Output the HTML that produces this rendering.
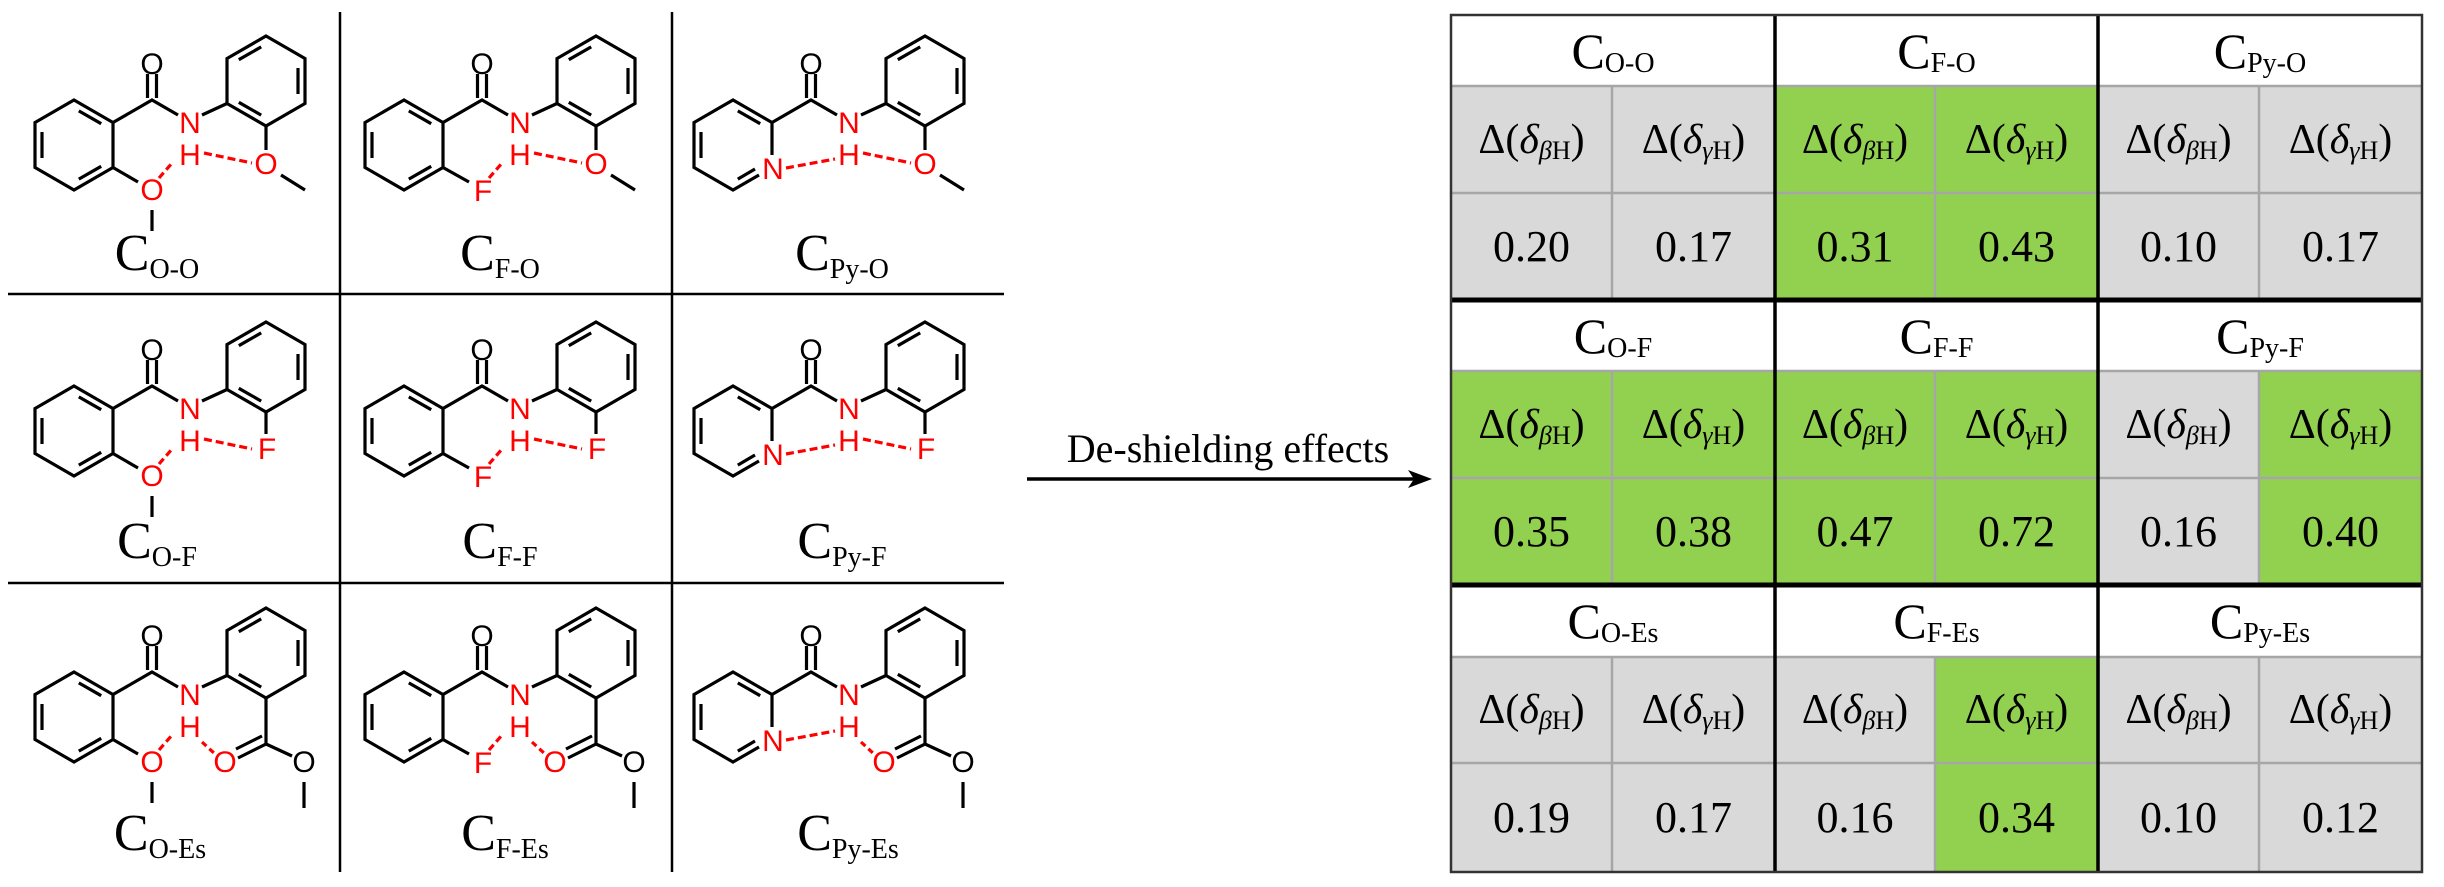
<!DOCTYPE html>
<html><head><meta charset="utf-8"><style>
html,body{margin:0;padding:0;background:#fff;}
#wrap{position:relative;width:2444px;height:887px;overflow:hidden;font-family:"Liberation Serif","DejaVu Serif",serif;}
.c{position:absolute;box-sizing:border-box;display:flex;align-items:center;justify-content:center;color:#000;font-family:"Liberation Serif","DejaVu Serif",serif;}
.c span{display:inline-block;white-space:nowrap;font-family:"Liberation Serif","DejaVu Serif",serif;}
.g{background:#d9d9d9;}
.gr{background:#92d050;}
.h{background:#fff;font-size:50px;}
.h sub{font-size:28px;position:relative;top:4px;vertical-align:baseline;}
.d{font-size:42px;}
.d sub{font-size:26px;position:relative;top:6px;vertical-align:baseline;}
.v{font-size:44px;}
</style></head><body><div id="wrap">
<svg width="1440" height="887" style="position:absolute;left:0;top:0" xmlns="http://www.w3.org/2000/svg">
<defs>
<g id="core" fill="none" stroke="#000" stroke-width="3.2">
<path d="M101,110.5 L140,88 L166,103 M190,103 L215,91.5"/>
<path d="M135.5,86 L135.5,62 M144.5,86 L144.5,62"/>
<path d="M254,24 L293,46.5 L293,91.5 L254,114 L215,91.5 L215,46.5 Z"/>
<path d="M226.8,47.7 L249.2,34.9 M286,56 L286,82 M226.8,90.3 L249.2,103.1"/>
</g>
<g id="benz" fill="none" stroke="#000" stroke-width="3.2">
<path d="M62,88 L101,110.5 L101,155.5 L62,178 L23,155.5 L23,110.5 Z"/>
<path d="M66.8,98.9 L89.2,111.7 M30,120 L30,146 M66.8,167.1 L89.2,154.3"/>
</g>
<g id="pyr" fill="none" stroke="#000" stroke-width="3.2">
<path d="M101,143 L101,110.5 L62,88 L23,110.5 L23,155.5 L62,178 L88,163"/>
<path d="M66.8,98.9 L89.2,111.7 M30,120 L30,146 M66.8,167.1 L84,157"/>
</g>
<g id="lO" fill="none" stroke="#000" stroke-width="3.2"><path d="M101,155.5 L126,170 M140,198 L140,219"/></g>
<g id="lF" fill="none" stroke="#000" stroke-width="3.2"><path d="M101,155.5 L127,170"/></g>
<g id="rO" fill="none" stroke="#000" stroke-width="3.2"><path d="M254,114 L254,138 M269,163 L293,178"/></g>
<g id="rF" fill="none" stroke="#000" stroke-width="3.2"><path d="M254,114 L254,136"/></g>
<g id="rE" fill="none" stroke="#000" stroke-width="3.2"><path d="M254,114 L254,160 L226,174 M250,152 L224,165 M254,160 L280,172 M292,198 L292,224"/></g>
<g id="dOl" fill="none" stroke="#f00" stroke-width="3.2" stroke-dasharray="7,4"><path d="M147,166 L161,150"/></g>
<g id="dNl" fill="none" stroke="#f00" stroke-width="3.2" stroke-dasharray="8,4"><path d="M115,156 L164,147"/></g>
<g id="dOr" fill="none" stroke="#f00" stroke-width="3.2" stroke-dasharray="8,4"><path d="M192,141 L240,151"/></g>
<g id="dEr" fill="none" stroke="#f00" stroke-width="3.2" stroke-dasharray="6,4"><path d="M190,158 L203,170"/></g>
</defs>
<g stroke="#000" stroke-width="2.5">
<line x1="340" y1="12" x2="340" y2="872"/><line x1="672" y1="12" x2="672" y2="872"/>
<line x1="8" y1="294" x2="1004" y2="294"/><line x1="8" y1="583" x2="1004" y2="583"/>
</g>
<line x1="1027" y1="479" x2="1418" y2="479" stroke="#000" stroke-width="3.5"/>
<path d="M1432,479 L1408,470 L1414,479 L1408,488 Z" fill="#000"/>
<text x="1228" y="462" style="font-family:'Liberation Serif','DejaVu Serif',serif" font-size="40" text-anchor="middle">De-shielding effects</text>

<g style="font-family:'Liberation Sans','DejaVu Sans',sans-serif" font-size="30" text-anchor="middle">
<g transform="translate(12,12)">
<use href="#core"/><use href="#benz"/><use href="#lO"/><use href="#rO"/><use href="#dOl"/><use href="#dOr"/>
<text x="140" y="62">O</text><text x="178" y="121" fill="#f00">N</text><text x="178" y="153" fill="#f00">H</text>
<text x="140" y="188" fill="#f00">O</text><text x="254" y="162" fill="#f00">O</text></g>
<g transform="translate(342,12)">
<use href="#core"/><use href="#benz"/><use href="#lF"/><use href="#rO"/><use href="#dOl"/><use href="#dOr"/>
<text x="140" y="62">O</text><text x="178" y="121" fill="#f00">N</text><text x="178" y="153" fill="#f00">H</text>
<text x="141" y="189" fill="#f00">F</text><text x="254" y="162" fill="#f00">O</text></g>
<g transform="translate(671,12)">
<use href="#core"/><use href="#pyr"/><use href="#rO"/><use href="#dNl"/><use href="#dOr"/>
<text x="140" y="62">O</text><text x="178" y="121" fill="#f00">N</text><text x="178" y="153" fill="#f00">H</text>
<text x="102" y="167" fill="#f00">N</text><text x="254" y="162" fill="#f00">O</text></g>

<g transform="translate(12,298)">
<use href="#core"/><use href="#benz"/><use href="#lO"/><use href="#rF"/><use href="#dOl"/><use href="#dOr"/>
<text x="140" y="62">O</text><text x="178" y="121" fill="#f00">N</text><text x="178" y="153" fill="#f00">H</text>
<text x="140" y="188" fill="#f00">O</text><text x="255" y="161" fill="#f00">F</text></g>
<g transform="translate(342,298)">
<use href="#core"/><use href="#benz"/><use href="#lF"/><use href="#rF"/><use href="#dOl"/><use href="#dOr"/>
<text x="140" y="62">O</text><text x="178" y="121" fill="#f00">N</text><text x="178" y="153" fill="#f00">H</text>
<text x="141" y="189" fill="#f00">F</text><text x="255" y="161" fill="#f00">F</text></g>
<g transform="translate(671,298)">
<use href="#core"/><use href="#pyr"/><use href="#rF"/><use href="#dNl"/><use href="#dOr"/>
<text x="140" y="62">O</text><text x="178" y="121" fill="#f00">N</text><text x="178" y="153" fill="#f00">H</text>
<text x="102" y="167" fill="#f00">N</text><text x="255" y="161" fill="#f00">F</text></g>

<g transform="translate(12,584)">
<use href="#core"/><use href="#benz"/><use href="#lO"/><use href="#rE"/><use href="#dOl"/><use href="#dEr"/>
<text x="140" y="62">O</text><text x="178" y="121" fill="#f00">N</text><text x="178" y="153" fill="#f00">H</text>
<text x="140" y="188" fill="#f00">O</text><text x="213" y="188" fill="#f00">O</text><text x="292" y="188">O</text></g>
<g transform="translate(342,584)">
<use href="#core"/><use href="#benz"/><use href="#lF"/><use href="#rE"/><use href="#dOl"/><use href="#dEr"/>
<text x="140" y="62">O</text><text x="178" y="121" fill="#f00">N</text><text x="178" y="153" fill="#f00">H</text>
<text x="141" y="189" fill="#f00">F</text><text x="213" y="188" fill="#f00">O</text><text x="292" y="188">O</text></g>
<g transform="translate(671,584)">
<use href="#core"/><use href="#pyr"/><use href="#rE"/><use href="#dNl"/><use href="#dEr"/>
<text x="140" y="62">O</text><text x="178" y="121" fill="#f00">N</text><text x="178" y="153" fill="#f00">H</text>
<text x="102" y="167" fill="#f00">N</text><text x="213" y="188" fill="#f00">O</text><text x="292" y="188">O</text></g>
</g>

<g style="font-family:'Liberation Serif','DejaVu Serif',serif" text-anchor="middle">
<text x="157" y="270" font-size="52">C<tspan font-size="28" dy="8">O-O</tspan></text>
<text x="500" y="270" font-size="52">C<tspan font-size="28" dy="8">F-O</tspan></text>
<text x="842" y="270" font-size="52">C<tspan font-size="28" dy="8">Py-O</tspan></text>
<text x="157" y="558" font-size="52">C<tspan font-size="28" dy="8">O-F</tspan></text>
<text x="500" y="558" font-size="52">C<tspan font-size="28" dy="8">F-F</tspan></text>
<text x="842" y="558" font-size="52">C<tspan font-size="28" dy="8">Py-F</tspan></text>
<text x="160" y="850" font-size="52">C<tspan font-size="28" dy="8">O-Es</tspan></text>
<text x="505" y="850" font-size="52">C<tspan font-size="28" dy="8">F-Es</tspan></text>
<text x="848" y="850" font-size="52">C<tspan font-size="28" dy="8">Py-Es</tspan></text>
</g>
</svg>

<div id="tbl">
<div class="c h" style="left:1451px;top:15px;width:324px;height:71px"><span>C<sub>O-O</sub></span></div>
<div class="c h" style="left:1775px;top:15px;width:323px;height:71px"><span>C<sub>F-O</sub></span></div>
<div class="c h" style="left:2098px;top:15px;width:324px;height:71px"><span>C<sub>Py-O</sub></span></div>
<div class="c d g" style="left:1451px;top:86px;width:161px;height:107px"><span>Δ(<i>δ</i><sub><i>β</i>H</sub>)</span></div>
<div class="c d g" style="left:1612px;top:86px;width:163px;height:107px"><span>Δ(<i>δ</i><sub><i>γ</i>H</sub>)</span></div>
<div class="c d gr" style="left:1775px;top:86px;width:160px;height:107px"><span>Δ(<i>δ</i><sub><i>β</i>H</sub>)</span></div>
<div class="c d gr" style="left:1935px;top:86px;width:163px;height:107px"><span>Δ(<i>δ</i><sub><i>γ</i>H</sub>)</span></div>
<div class="c d g" style="left:2098px;top:86px;width:161px;height:107px"><span>Δ(<i>δ</i><sub><i>β</i>H</sub>)</span></div>
<div class="c d g" style="left:2259px;top:86px;width:163px;height:107px"><span>Δ(<i>δ</i><sub><i>γ</i>H</sub>)</span></div>
<div class="c v g" style="left:1451px;top:193px;width:161px;height:107px"><span>0.20</span></div>
<div class="c v g" style="left:1612px;top:193px;width:163px;height:107px"><span>0.17</span></div>
<div class="c v gr" style="left:1775px;top:193px;width:160px;height:107px"><span>0.31</span></div>
<div class="c v gr" style="left:1935px;top:193px;width:163px;height:107px"><span>0.43</span></div>
<div class="c v g" style="left:2098px;top:193px;width:161px;height:107px"><span>0.10</span></div>
<div class="c v g" style="left:2259px;top:193px;width:163px;height:107px"><span>0.17</span></div>

<div class="c h" style="left:1451px;top:300px;width:324px;height:71px"><span>C<sub>O-F</sub></span></div>
<div class="c h" style="left:1775px;top:300px;width:323px;height:71px"><span>C<sub>F-F</sub></span></div>
<div class="c h" style="left:2098px;top:300px;width:324px;height:71px"><span>C<sub>Py-F</sub></span></div>
<div class="c d gr" style="left:1451px;top:371px;width:161px;height:107px"><span>Δ(<i>δ</i><sub><i>β</i>H</sub>)</span></div>
<div class="c d gr" style="left:1612px;top:371px;width:163px;height:107px"><span>Δ(<i>δ</i><sub><i>γ</i>H</sub>)</span></div>
<div class="c d gr" style="left:1775px;top:371px;width:160px;height:107px"><span>Δ(<i>δ</i><sub><i>β</i>H</sub>)</span></div>
<div class="c d gr" style="left:1935px;top:371px;width:163px;height:107px"><span>Δ(<i>δ</i><sub><i>γ</i>H</sub>)</span></div>
<div class="c d g" style="left:2098px;top:371px;width:161px;height:107px"><span>Δ(<i>δ</i><sub><i>β</i>H</sub>)</span></div>
<div class="c d gr" style="left:2259px;top:371px;width:163px;height:107px"><span>Δ(<i>δ</i><sub><i>γ</i>H</sub>)</span></div>
<div class="c v gr" style="left:1451px;top:478px;width:161px;height:107px"><span>0.35</span></div>
<div class="c v gr" style="left:1612px;top:478px;width:163px;height:107px"><span>0.38</span></div>
<div class="c v gr" style="left:1775px;top:478px;width:160px;height:107px"><span>0.47</span></div>
<div class="c v gr" style="left:1935px;top:478px;width:163px;height:107px"><span>0.72</span></div>
<div class="c v g" style="left:2098px;top:478px;width:161px;height:107px"><span>0.16</span></div>
<div class="c v gr" style="left:2259px;top:478px;width:163px;height:107px"><span>0.40</span></div>

<div class="c h" style="left:1451px;top:585px;width:324px;height:72px"><span>C<sub>O-Es</sub></span></div>
<div class="c h" style="left:1775px;top:585px;width:323px;height:72px"><span>C<sub>F-Es</sub></span></div>
<div class="c h" style="left:2098px;top:585px;width:324px;height:72px"><span>C<sub>Py-Es</sub></span></div>
<div class="c d g" style="left:1451px;top:657px;width:161px;height:106px"><span>Δ(<i>δ</i><sub><i>β</i>H</sub>)</span></div>
<div class="c d g" style="left:1612px;top:657px;width:163px;height:106px"><span>Δ(<i>δ</i><sub><i>γ</i>H</sub>)</span></div>
<div class="c d g" style="left:1775px;top:657px;width:160px;height:106px"><span>Δ(<i>δ</i><sub><i>β</i>H</sub>)</span></div>
<div class="c d gr" style="left:1935px;top:657px;width:163px;height:106px"><span>Δ(<i>δ</i><sub><i>γ</i>H</sub>)</span></div>
<div class="c d g" style="left:2098px;top:657px;width:161px;height:106px"><span>Δ(<i>δ</i><sub><i>β</i>H</sub>)</span></div>
<div class="c d g" style="left:2259px;top:657px;width:163px;height:106px"><span>Δ(<i>δ</i><sub><i>γ</i>H</sub>)</span></div>
<div class="c v g" style="left:1451px;top:763px;width:161px;height:109px"><span>0.19</span></div>
<div class="c v g" style="left:1612px;top:763px;width:163px;height:109px"><span>0.17</span></div>
<div class="c v g" style="left:1775px;top:763px;width:160px;height:109px"><span>0.16</span></div>
<div class="c v gr" style="left:1935px;top:763px;width:163px;height:109px"><span>0.34</span></div>
<div class="c v g" style="left:2098px;top:763px;width:161px;height:109px"><span>0.10</span></div>
<div class="c v g" style="left:2259px;top:763px;width:163px;height:109px"><span>0.12</span></div>
</div>
<svg width="2444" height="887" style="position:absolute;left:0;top:0" xmlns="http://www.w3.org/2000/svg">
<g stroke="#a6a6a6" stroke-width="2.5">
<line x1="1451" y1="86" x2="2422" y2="86"/><line x1="1451" y1="193" x2="2422" y2="193"/>
<line x1="1451" y1="371" x2="2422" y2="371"/><line x1="1451" y1="478" x2="2422" y2="478"/>
<line x1="1451" y1="657" x2="2422" y2="657"/><line x1="1451" y1="763" x2="2422" y2="763"/>
<line x1="1612" y1="86" x2="1612" y2="300"/><line x1="1935" y1="86" x2="1935" y2="300"/><line x1="2259" y1="86" x2="2259" y2="300"/>
<line x1="1612" y1="371" x2="1612" y2="585"/><line x1="1935" y1="371" x2="1935" y2="585"/><line x1="2259" y1="371" x2="2259" y2="585"/>
<line x1="1612" y1="657" x2="1612" y2="872"/><line x1="1935" y1="657" x2="1935" y2="872"/><line x1="2259" y1="657" x2="2259" y2="872"/>
</g>
<g stroke="#000">
<line x1="1775" y1="15" x2="1775" y2="872" stroke-width="3.5"/>
<line x1="2098" y1="15" x2="2098" y2="872" stroke-width="3.5"/>
<line x1="1451" y1="300" x2="2422" y2="300" stroke-width="5"/>
<line x1="1451" y1="585" x2="2422" y2="585" stroke-width="5"/>
</g>
<rect x="1451" y="15" width="971" height="857" fill="none" stroke="#333" stroke-width="2.5"/>
</svg>
</div></body></html>
